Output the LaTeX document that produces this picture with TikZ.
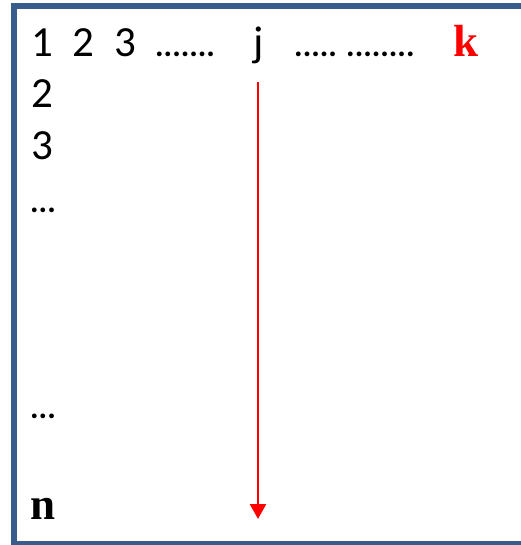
\documentclass[tikz,border=0pt]{standalone}
\usepackage{fontspec}
\setmainfont{Carlito}
\newfontfamily\boldserif{Liberation Serif}[BoldFont={Liberation Serif Bold}]
\usetikzlibrary{arrows.meta}
\definecolor{frameblue}{HTML}{385D8A}
\definecolor{idxred}{HTML}{FF0000}
\tikzset{
  num/.style={inner sep=0pt, anchor=base, font=\fontsize{43}{43}\selectfont},
  dotrun/.style={inner sep=0pt, anchor=base west, font=\fontsize{32}{32}\selectfont\bfseries},
  boldidx/.style={inner sep=0pt, anchor=base, font=\fontsize{45}{45}\selectfont\boldserif\bfseries},
  sweep/.style={draw=idxred, line width=2.6pt, -{Triangle[length=15pt,width=16pt]}}
}
\begin{document}
\begin{tikzpicture}[x=1pt,y=-1pt]
  \useasboundingbox (0,0) rectangle (520,545);
  % frame, open on the right
  \draw[frameblue, line width=6pt] (14,6) rectangle (530,544);

  % header row
  \node[num] (c1) at (42,57) {1};
  \node[num] (c2) at (83,57) {2};
  \node[num] (c3) at (125,57) {3};
  \node[dotrun] (d1) at (155,57) {.......};
  \node[num] (cj) at (259,57) {j};
  \node[dotrun] (d2) at (294,57) {.....};
  \node[dotrun] (d3) at (346,57) {........};
  \node[boldidx, text=idxred] (ck) at (466,57) {k};

  % first column
  \node[num] (r2) at (42,108) {2};
  \node[num] (r3) at (42,160) {3};
  \node[dotrun] (e1) at (30,212) {...};
  \node[dotrun] (e2) at (30,418) {...};
  \node[boldidx] (rn) at (43,519) {n};

  % column sweep
  \coordinate (top) at (258,82);
  \coordinate (bot) at (258,519);
  \draw[sweep] (top) -- (bot);
\end{tikzpicture}
\end{document}
